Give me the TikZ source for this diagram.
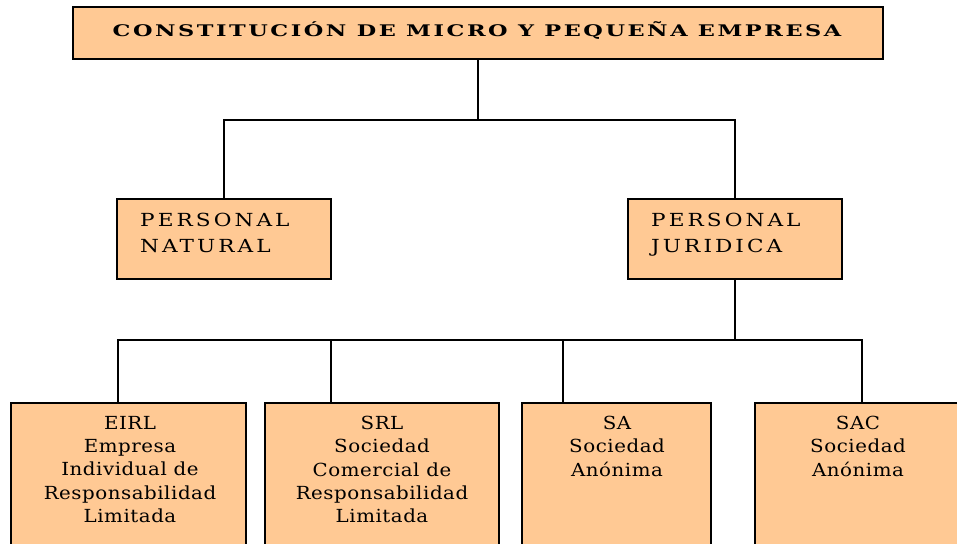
\documentclass[tikz,border=0pt]{standalone}
\usepackage{fontspec}
\newfontfamily\ttlfont[FakeStretch=1.4,LetterSpace=16]{DejaVu Serif}
\newfontfamily\midfont[FakeStretch=1.2,LetterSpace=17]{DejaVu Serif}
\newfontfamily\lowfont[FakeStretch=1.1,LetterSpace=3]{DejaVu Serif}
\definecolor{peach}{HTML}{FFC994}
\begin{document}
\begin{tikzpicture}[x=1pt,y=-1pt,
  box/.style={draw=black, line width=1.5pt, fill=peach, rectangle, inner sep=0pt},
  conn/.style={draw=black, line width=1.8pt},
  txt/.style={inner sep=0pt, text=black},
  ttl/.style={txt, font=\ttlfont\bfseries\fontsize{16}{18}\selectfont},
  mid/.style={txt, align=left, anchor=north west, font=\midfont\fontsize{18}{26}\selectfont},
  low/.style={txt, align=center, anchor=north, font=\lowfont\fontsize{18}{23.3}\selectfont}]
\useasboundingbox (0,0) rectangle (957,543);
\clip (0,0) rectangle (957,543);
% junction lines
\coordinate (bus1) at (0,120);
\coordinate (bus2) at (0,340);
\coordinate (c1) at (118,403);
\coordinate (c2) at (331,403);
\coordinate (c3) at (563,403);
\coordinate (c4) at (862,403);
% boxes
\node[box, minimum width=810pt, minimum height=52pt] (top) at (478,33) {};
\node[box, minimum width=214pt, minimum height=80pt] (pn) at (224,239) {};
\node[box, minimum width=214pt, minimum height=80pt] (pj) at (735,239) {};
\node[box, minimum width=235pt, minimum height=157pt] (eirl) at (128.5,481.5) {};
\node[box, minimum width=234pt, minimum height=157pt] (srl) at (382,481.5) {};
\node[box, minimum width=189pt, minimum height=157pt] (sa) at (616.5,481.5) {};
\node[box, minimum width=206pt, minimum height=157pt] (sac) at (858,481.5) {};
% connectors
\draw[conn] (top.south) -- (top.south |- bus1);
\draw[conn] (pn.north) |- (pj.north |- bus1) -- (pj.north);
\draw[conn] (pj.south) -- (pj.south |- bus2);
\draw[conn] (c1) |- (c4 |- bus2) -- (c4);
\draw[conn] (c2) -- (c2 |- bus2);
\draw[conn] (c3) -- (c3 |- bus2);
% texts
\node[ttl] (ttitle) at (477,31) {CONSTITUCIÓN DE MICRO Y PEQUEÑA EMPRESA};
\node[mid] (tpn) at (140,213) {PERSONAL\\NATURAL};
\node[mid] (tpj) at (651,213) {PERSONAL\\JURIDICA};
\node[low] (teirl) at (130,416) {EIRL\\Empresa\\Individual de\\Responsabilidad\\Limitada};
\node[low] (tsrl) at (382,416) {SRL\\Sociedad\\Comercial de\\Responsabilidad\\Limitada};
\node[low] (tsa) at (617,416) {SA\\Sociedad\\Anónima};
\node[low] (tsac) at (858,416) {SAC\\Sociedad\\Anónima};
\end{tikzpicture}
\end{document}
